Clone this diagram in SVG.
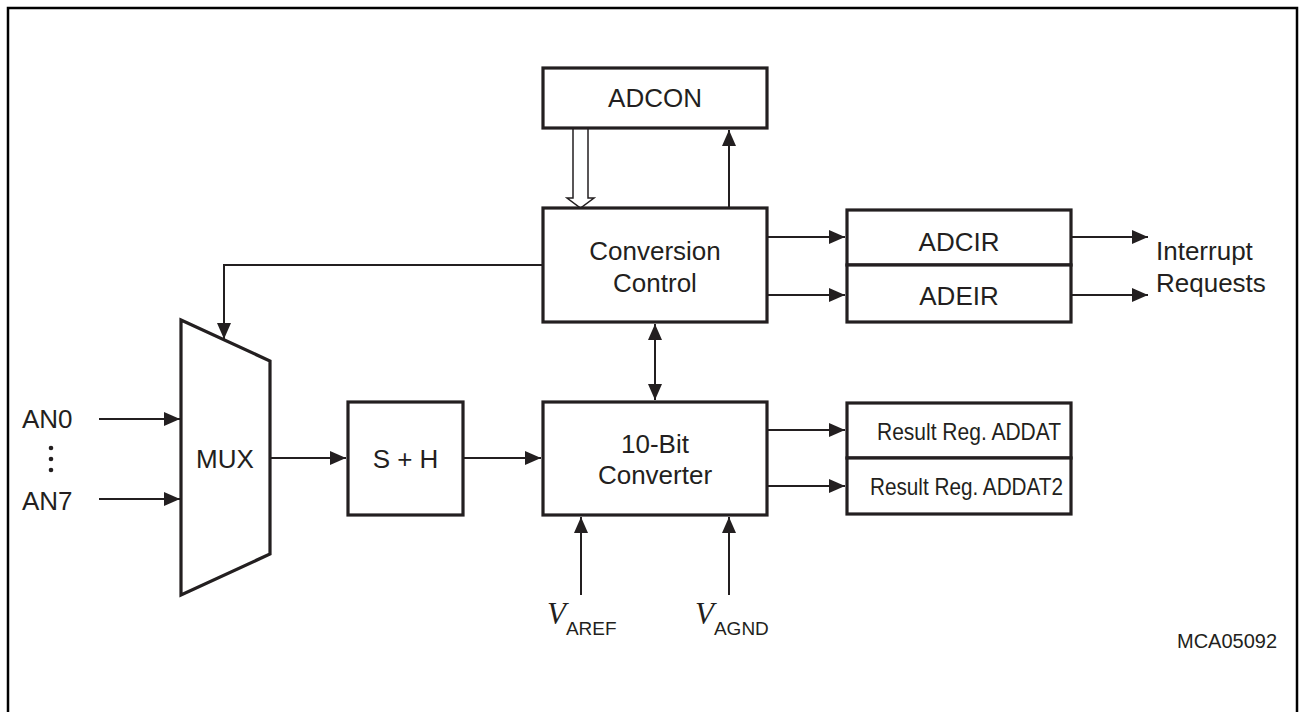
<svg xmlns="http://www.w3.org/2000/svg" width="1299" height="712" viewBox="0 0 1299 712">
<style>
.box{fill:#fff;stroke:#231f20;stroke-width:3.2}
.ln{fill:none;stroke:#231f20;stroke-width:2}
.t{font-family:"Liberation Sans",Arial,sans-serif;font-size:26px;fill:#231f20;text-anchor:middle}
.r{font-family:"Liberation Sans",Arial,sans-serif;font-size:24px;fill:#231f20}
.s{font-family:"Liberation Sans",Arial,sans-serif;font-size:19px;fill:#231f20}
.v{font-family:"Liberation Serif","Times New Roman",serif;font-style:italic;font-size:31px;fill:#231f20}
</style>
<defs>
<marker id="ah" markerWidth="16" markerHeight="14" refX="16" refY="7" orient="auto" markerUnits="userSpaceOnUse">
<path d="M0,0 L16,7 L0,14 Z" fill="#231f20"/>
</marker>
<marker id="ahs" markerWidth="16" markerHeight="14" refX="16" refY="7" orient="auto-start-reverse" markerUnits="userSpaceOnUse">
<path d="M0,0 L16,7 L0,14 Z" fill="#231f20"/>
</marker>
</defs>
<rect x="8" y="8" width="1289" height="720" fill="#fff" stroke="#000" stroke-width="2.5"/>

<g id="connectors">
<polyline class="ln" points="573,129 573,198 567,198 580.5,208 594,198 588,198 588,129" style="fill:#fff;stroke-width:1.5"/>
<line class="ln" x1="729" y1="208" x2="729" y2="130" marker-end="url(#ah)"/>
<polyline class="ln" points="543,265 224,265 224,339" marker-end="url(#ah)"/>
<line class="ln" x1="655" y1="324" x2="655" y2="400" marker-start="url(#ahs)" marker-end="url(#ahs)"/>
<line class="ln" x1="767" y1="237" x2="845" y2="237" marker-end="url(#ah)"/>
<line class="ln" x1="767" y1="295" x2="845" y2="295" marker-end="url(#ah)"/>
<line class="ln" x1="1071" y1="237" x2="1148" y2="237" marker-end="url(#ah)"/>
<line class="ln" x1="1071" y1="295" x2="1148" y2="295" marker-end="url(#ah)"/>
<line class="ln" x1="99" y1="419" x2="180" y2="419" marker-end="url(#ah)"/>
<line class="ln" x1="99" y1="499" x2="180" y2="499" marker-end="url(#ah)"/>
<line class="ln" x1="270" y1="458" x2="346" y2="458" marker-end="url(#ah)"/>
<line class="ln" x1="463" y1="458" x2="541" y2="458" marker-end="url(#ah)"/>
<line class="ln" x1="767" y1="430" x2="845" y2="430" marker-end="url(#ah)"/>
<line class="ln" x1="767" y1="486" x2="845" y2="486" marker-end="url(#ah)"/>
<line class="ln" x1="581" y1="595" x2="581" y2="517" marker-end="url(#ah)"/>
<line class="ln" x1="729" y1="595" x2="729" y2="517" marker-end="url(#ah)"/>
</g>

<g id="adcon">
<rect class="box" x="543" y="68" width="224" height="60"/>
<text class="t" x="655" y="107">ADCON</text>
</g>
<g id="conversion-control">
<rect class="box" x="543" y="208" width="224" height="114"/>
<text class="t" x="655" y="260">Conversion</text>
<text class="t" x="655" y="292">Control</text>
</g>
<g id="converter">
<rect class="box" x="543" y="402" width="224" height="113"/>
<text class="t" x="655" y="453">10-Bit</text>
<text class="t" x="655" y="484">Converter</text>
</g>
<g id="sh">
<rect class="box" x="348" y="402" width="115" height="113"/>
<text class="t" x="405.5" y="468">S + H</text>
</g>
<g id="mux">
<polygon class="box" points="181,320 270,361 270,554 181,595"/>
<text class="t" x="225" y="468">MUX</text>
</g>
<g id="adcir">
<rect class="box" x="847" y="210" width="224" height="55"/>
<text class="t" x="959" y="251">ADCIR</text>
</g>
<g id="adeir">
<rect class="box" x="847" y="265" width="224" height="57"/>
<text class="t" x="959" y="305">ADEIR</text>
</g>
<g id="addat">
<rect class="box" x="847" y="403" width="224" height="55"/>
<text class="r" x="877" y="440" textLength="184" lengthAdjust="spacingAndGlyphs">Result Reg. ADDAT</text>
</g>
<g id="addat2">
<rect class="box" x="847" y="458" width="224" height="56"/>
<text class="r" x="870" y="495" textLength="193" lengthAdjust="spacingAndGlyphs">Result Reg. ADDAT2</text>
</g>
<g id="inputs">
<text class="t" x="22" y="428" style="text-anchor:start">AN0</text>
<circle cx="51" cy="448" r="2.3" fill="#231f20"/>
<circle cx="51" cy="459" r="2.3" fill="#231f20"/>
<circle cx="51" cy="470" r="2.3" fill="#231f20"/>
<text class="t" x="22" y="510" style="text-anchor:start">AN7</text>
</g>
<g id="interrupt-label">
<text class="t" x="1156" y="260" style="text-anchor:start">Interrupt</text>
<text class="t" x="1156" y="292" style="text-anchor:start">Requests</text>
</g>
<g id="varef">
<text x="547" y="624"><tspan class="v">V</tspan><tspan class="s" dy="11">AREF</tspan></text>
</g>
<g id="vagnd">
<text x="695" y="624"><tspan class="v">V</tspan><tspan class="s" dy="11">AGND</tspan></text>
</g>
<text class="t" x="1177" y="648" style="text-anchor:start;font-size:20px">MCA05092</text>
</svg>
